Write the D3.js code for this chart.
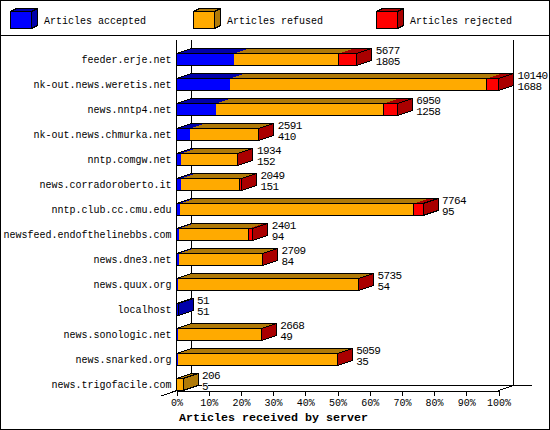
<!DOCTYPE html>
<html><head><meta charset="utf-8">
<script src="https://cdn.jsdelivr.net/npm/d3@7/dist/d3.min.js"></script>
<style>
html,body{margin:0;padding:0;background:#fff;overflow:hidden}
svg{display:block}
text{font-family:"Liberation Mono","DejaVu Sans Mono",monospace;font-size:10px;fill:#000}
path,line,rect{shape-rendering:crispEdges}
</style></head><body>
<script>
const hosts=["feeder.erje.net","nk-out.news.weretis.net","news.nntp4.net","nk-out.news.chmurka.net","nntp.comgw.net","news.corradoroberto.it","nntp.club.cc.cmu.edu","newsfeed.endofthelinebbs.com","news.dne3.net","news.quux.org","localhost","news.sonologic.net","news.snarked.org","news.trigofacile.com"];
const totals=[5677,10140,6950,2591,1934,2049,7764,2401,2709,5735,51,2668,5059,206];
const accepted=[1805,1688,1258,410,152,151,95,94,84,54,51,49,35,5];
const rejected=[570,365,430,15,5,60,300,120,10,5,0,5,2,0];
const legendNames=["Articles accepted","Articles refused","Articles rejected"];
const colors=["#0000ff","#ffaa00","#ff0000"];
const darks=["#0000aa","#b07a08","#aa0000"];
const pctTicks=[0,10,20,30,40,50,60,70,80,90,100];
const axisTitle="Articles received by server";

const W=550,H=430,DX=15,DY=5,HALF=6;
const svg=d3.select("body").append("svg").attr("width",W).attr("height",H);
svg.append("rect").attr("x",0.5).attr("y",0.5).attr("width",549).attr("height",429).attr("fill","#fff").attr("stroke","#000");
svg.append("line").attr("x1",0).attr("x2",550).attr("y1",35.5).attr("y2",35.5).attr("stroke","#000");

// legend
const legendX=d3.scaleOrdinal().domain(legendNames).range([10.5,193.5,376.5]);
legendNames.forEach((n,i)=>{
  const g=svg.append("g").attr("transform",`translate(${legendX(n)},11.5)`);
  const w=21,h=17,dx=6,dy=3;
  g.append("path").attr("d",`M${w},0L${w+dx},${-dy}V${h-dy}L${w},${h}Z`).attr("fill",darks[i]).attr("stroke","#000");
  g.append("path").attr("d",`M0,0L${dx},${-dy}H${w+dx}L${w},0Z`).attr("fill",darks[i]).attr("stroke","#000");
  g.append("rect").attr("width",w).attr("height",h).attr("fill",colors[i]).attr("stroke","#000");
  svg.append("text").attr("x",legendX(n)+33.5).attr("y",24).text(n);
});

// scales
const xPct=d3.scaleLinear().domain([0,100]).range([176.5,498.5]);
const xVal=d3.scaleLinear().domain([0,d3.max(totals)]).range([176.5,498.5]);
const y=d3.scaleBand().domain(hosts).range([47,397]);
const cy=h=>y(h)+y.bandwidth()/2;
const y0=390.5;

// back walls
const walls=svg.append("g").attr("stroke","#000").attr("fill","none");
[[176.5+DX,40,176.5+DX,y0-DY],[498.5+DX,40,498.5+DX,y0-DY],[176.5+DX,y0-DY,532,y0-DY]].forEach(l=>
  walls.append("line").attr("x1",l[0]).attr("y1",l[1]).attr("x2",l[2]).attr("y2",l[3]));
walls.append("line").attr("x1",161).attr("y1",y0+5.5).attr("x2",176.5+DX).attr("y2",y0-DY);
walls.append("line").attr("x1",498.5).attr("y1",y0).attr("x2",498.5+DX).attr("y2",y0-DY);

// bars
const bars=svg.append("g");
hosts.forEach((h,i)=>{
  const parts=[accepted[i],totals[i]-accepted[i]-rejected[i],rejected[i]];
  let a=0,last=0;
  const c=cy(h),top=c-HALF,bot=c+HALF;
  const g=bars.append("g");
  parts.forEach((v,k)=>{
    if(v<=0)return;
    const x1=xVal(a),x2=xVal(a+v);a+=v;last=k;
    g.append("path").attr("d",`M${x1},${top}L${x1+DX},${top-DY}H${x2+DX}L${x2},${top}Z`).attr("fill",darks[k]);
  });
  const xe=xVal(totals[i]),xs=xVal(0);
  g.append("path").attr("d",`M${xe},${top}L${xe+DX},${top-DY}V${bot-DY}L${xe},${bot}Z`).attr("fill",darks[last]);
  a=0;
  parts.forEach((v,k)=>{
    if(v<=0)return;
    const x1=xVal(a),x2=xVal(a+v);a+=v;
    g.append("rect").attr("x",x1).attr("y",top).attr("width",x2-x1).attr("height",bot-top).attr("fill",colors[k]).attr("stroke",k==2||parts[2]<=0&&k==last?"#000":"none");
  });
  g.append("path").attr("d",`M${xs},${top}L${xs+DX},${top-DY}H${xe+DX}V${bot-DY}L${xe},${bot}H${xs}Z M${xs},${top}H${xe}L${xe+DX},${top-DY} M${xe},${top}V${bot}`).attr("fill","none").attr("stroke","#000");
  // value labels
  [[totals[i],c-6],[accepted[i],c+5]].forEach(([val,by])=>{
    const s=String(val),tx=xe+DX+4;
    g.append("rect").attr("x",tx).attr("y",by-8).attr("width",s.length*6).attr("height",11).attr("fill","#fff");
    g.append("text").attr("x",tx).attr("y",by).style("font-size","11px").style("letter-spacing","-0.6px").text(s);
  });
});

// front axes, drawn through d3
const ax=svg.append("g").attr("transform",`translate(0,${y0})`).call(d3.axisBottom(xPct).tickValues(pctTicks).tickFormat(d=>d+"%").tickSize(5).tickPadding(3).tickSizeOuter(0));
ax.selectAll("path,line").attr("stroke","#000");
ax.selectAll("text").attr("dy","0.71em");
ax.attr("font-family",null).attr("font-size",null);
const ay=svg.append("g").attr("transform","translate(176.5,0)").call(d3.axisLeft(y).tickSize(0).tickPadding(5));
ay.select("path").remove();
ay.attr("font-family",null).attr("font-size",null);
ay.selectAll("text").attr("dy","0.3em");
svg.append("line").attr("x1",176.5).attr("x2",176.5).attr("y1",40).attr("y2",y0).attr("stroke","#000");

svg.append("text").attr("x",273.5).attr("y",421).attr("text-anchor","middle").style("font-weight","bold").style("font-size","11.67px").text(axisTitle);
</script>
</body></html>
